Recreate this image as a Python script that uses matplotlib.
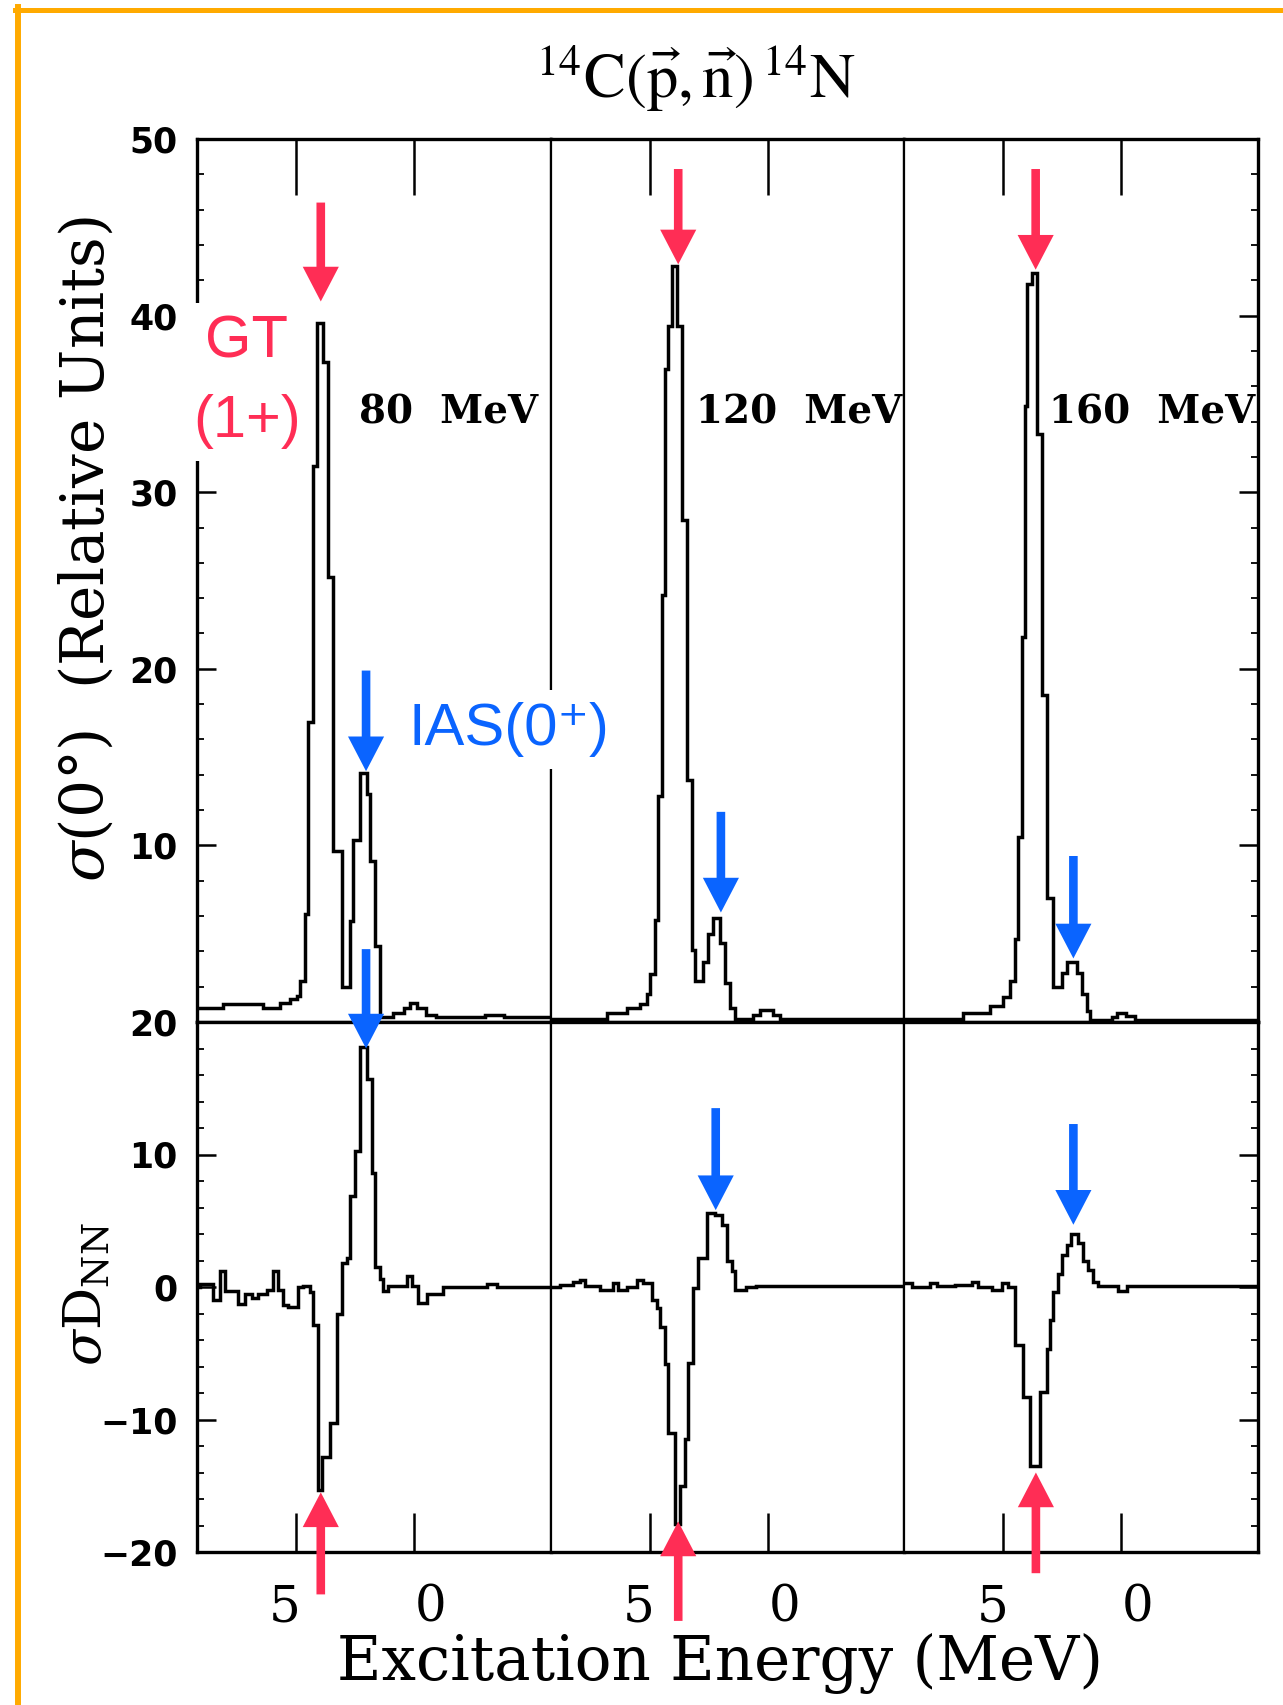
import numpy as np
import matplotlib
matplotlib.use("Agg")
import matplotlib.pyplot as plt
from matplotlib.lines import Line2D
from matplotlib.ticker import MultipleLocator
from matplotlib.transforms import ScaledTranslation

# 14C(p,n)14N spectra at 80 / 120 / 160 MeV: cross section (top) and sigma*D_NN (bottom)
# bin edges in MeV (read left to right, axis is reversed), values per bin

# --- sigma(0 deg), 80 MeV
cs80_e = [9.2, 8.1, 6.4, 5.68, 5.26, 4.97, 4.83, 4.62, 4.49, 4.28,
          4.11, 3.86, 3.64, 3.43, 3.05, 2.71, 2.58, 2.29, 1.99, 1.86,
          1.65, 1.44, 0.9, 0.4, 0.15, -0.15, -0.5, -0.95, -3.0, -3.8, -5.8]
cs80_y = [0.8, 1.0, 0.8, 1.1, 1.3, 1.5, 2.3, 6.1, 17.0, 31.5,
          39.6, 37.4, 25.2, 9.7, 2.0, 5.7, 10.3, 14.1, 12.9, 9.1,
          4.3, 0.3, 0.5, 0.8, 1.1, 0.8, 0.4, 0.3, 0.4, 0.3]

# --- sigma(0 deg), 120 MeV
cs120_e = [9.2, 6.83, 5.98, 5.41, 5.13, 4.99, 4.78, 4.64, 4.49, 4.35,
           4.21, 4.07, 3.86, 3.64, 3.43, 3.22, 3.08, 2.73, 2.52, 2.30,
           2.02, 1.81, 1.60, 1.38, 0.61, 0.33, -0.24, -0.52, -5.8]
cs120_y = [0.15, 0.5, 0.8, 1.0, 1.6, 2.7, 5.8, 12.8, 24.2, 37.0,
           39.4, 42.8, 39.4, 28.4, 13.7, 4.1, 2.3, 3.4, 5.0, 5.9,
           4.5, 2.2, 0.8, 0.15, 0.4, 0.7, 0.4, 0.15]

# --- sigma(0 deg), 160 MeV
cs160_e = [9.2, 6.70, 5.57, 5.00, 4.72, 4.51, 4.37, 4.22, 4.08, 4.01,
           3.80, 3.59, 3.37, 3.16, 2.88, 2.53, 2.31, 1.89, 1.68, 1.46,
           1.32, 0.40, 0.20, -0.20, -0.60, -5.8]
cs160_y = [0.15, 0.5, 0.9, 1.4, 2.3, 4.7, 10.5, 21.8, 34.9, 41.8,
           42.4, 33.3, 18.5, 7.0, 2.0, 2.8, 3.4, 2.8, 1.6, 0.6,
           0.1, 0.3, 0.5, 0.35, 0.1]

# --- sigma*D_NN, 80 MeV
dnn80_e = [9.2, 9.07, 8.51, 8.22, 8.01, 7.45, 7.16, 6.88, 6.60, 6.24,
           5.96, 5.75, 5.54, 5.33, 4.90, 4.69, 4.41, 4.27, 4.06, 3.91,
           3.56, 3.28, 3.06, 2.85, 2.71, 2.50, 2.29, 2.00, 1.79, 1.65,
           1.44, 1.30, 1.09, 0.31, 0.09, -0.18, -0.54, -1.25, -3.09, -3.51, -5.8]
dnn80_y = [0.0, 0.2, -1.0, 1.2, -0.3, -1.3, -0.5, -0.8, -0.5, -0.2,
           1.2, -0.2, -1.35, -1.5, 0.0, 0.1, -0.4, -2.9, -15.3, -12.8,
           -10.3, -2.0, 1.8, 2.2, 6.9, 10.3, 18.1, 15.7, 8.6, 1.5,
           0.6, -0.3, 0.1, 0.8, 0.1, -1.2, -0.5, 0.0, 0.2, 0.0]

# --- sigma*D_NN, 120 MeV
dnn120_e = [9.2, 8.81, 8.24, 7.96, 7.75, 7.11, 6.55, 6.33, 5.98, 5.55,
            5.27, 4.92, 4.70, 4.56, 4.35, 4.21, 3.93, 3.72, 3.50, 3.36,
            3.15, 2.94, 2.58, 2.23, 1.95, 1.74, 1.52, 1.38, 0.9, 0.5,
            -1.09, -5.8]
dnn120_y = [0.0, 0.15, 0.4, 0.5, 0.1, -0.2, 0.3, -0.2, 0.0, 0.5,
            0.3, -1.0, -1.6, -3.0, -5.8, -11.0, -17.9, -15.0, -11.5, -5.7,
            -0.1, 2.2, 5.55, 5.4, 4.7, 2.0, 1.2, -0.2, 0.0, 0.05, 0.1]

# --- sigma*D_NN, 160 MeV
dnn160_e = [9.2, 8.89, 8.11, 7.83, 7.05, 6.34, 6.06, 5.49, 5.07, 4.79,
            4.51, 4.15, 3.87, 3.45, 3.16, 3.02, 2.88, 2.69, 2.52, 2.31,
            2.14, 1.82, 1.61, 1.40, 1.18, 0.97, 0.12, -0.23, -0.72, -5.8]
dnn160_y = [0.3, 0.0, 0.3, 0.1, 0.15, 0.4, 0.0, -0.2, 0.3, 0.0,
            -4.4, -8.3, -13.5, -7.9, -4.7, -2.5, -0.35, 1.0, 2.4, 3.2,
            4.0, 3.3, 2.0, 1.3, 0.4, 0.1, -0.3, 0.05, 0.1]

energies = ["80  MeV", "120  MeV", "160  MeV"]
top_spectra = [(cs80_e, cs80_y), (cs120_e, cs120_y), (cs160_e, cs160_y)]
bot_spectra = [(dnn80_e, dnn80_y), (dnn120_e, dnn120_y), (dnn160_e, dnn160_y)]

# arrows: (energy, tail value, tip value)
gt_top = [(3.95, 46.4, 40.8), (3.79, 48.3, 42.9), (3.63, 48.3, 42.6)]
ias_top = [(2.03, 19.9, 14.2), (1.98, 11.9, 6.2), (2.03, 9.4, 3.6)]
ias_bot = [(2.03, 25.5, 18.0), (2.20, 13.5, 5.8), (2.03, 12.3, 4.7)]
gt_bot = [(3.95, -23.2, -15.5), (3.79, -25.2, -17.7), (3.62, -21.6, -14.0)]

W, H = 1283, 1705
DPI = 100
RED = "#FF2D55"
BLUE = "#0A64FF"
ORANGE = "#FFAA00"
XLIM = (9.2, -5.8)
ARROW = "simple,head_length=25,head_width=26,tail_width=6.2"

fig = plt.figure(figsize=(W / DPI, H / DPI), dpi=DPI)
gs = fig.add_gridspec(2, 3, left=197 / W, right=1258 / W, top=1 - 139 / H,
                      bottom=1 - 1552 / H, height_ratios=[883, 530],
                      wspace=0, hspace=0)
axes = [[fig.add_subplot(gs[r, c]) for c in range(3)] for r in range(2)]


def arrow(ax, x, y0, y1, color):
    ax.annotate("", xy=(x, y1), xytext=(x, y0),
                arrowprops=dict(arrowstyle=ARROW, mutation_scale=1, color=color,
                                lw=0, shrinkA=0, shrinkB=0),
                annotation_clip=False, zorder=10)


for r in range(2):
    for c in range(3):
        ax = axes[r][c]
        e, y = (top_spectra if r == 0 else bot_spectra)[c]
        ax.stairs(y, e, baseline=None, color="k", lw=2.5)
        ax.set_xlim(XLIM)
        if r == 0:
            ax.set_ylim(0, 50)
            ax.set_xticks([5, 0], ["", ""])
            ax.tick_params(axis="x", which="major", top=True, bottom=False,
                           direction="in", length=40, width=1.8)
            yt = [10, 20, 30, 40, 50]
            ytl = ["10", "20", "30", "40", "50"]
        else:
            ax.set_ylim(-20, 20)
            ax.set_xticks([5, 0], ["5", "0"], fontsize=36, fontfamily="DejaVu Serif")
            ax.tick_params(axis="x", which="major", top=False, bottom=True,
                           direction="in", length=28, width=1.8, pad=22)
            yt = [-20, -10, 0, 10, 20]
            ytl = ["\u221220", "\u221210", "0", "10", "20"]
        ax.yaxis.set_minor_locator(MultipleLocator(2))
        if c == 0:
            ax.set_yticks(yt, ytl, fontsize=25, fontweight="bold", fontfamily="DejaVu Sans")
            ax.tick_params(axis="y", which="both", left=True, right=False,
                           direction="in", pad=14)
        elif c == 2:
            ax.set_yticks(yt, [""] * len(yt))
            ax.tick_params(axis="y", which="both", left=False, right=True,
                           labelleft=False, direction="in")
        else:
            ax.set_yticks(yt, [""] * len(yt))
            ax.tick_params(axis="y", which="both", left=False, right=False,
                           labelleft=False)
        ax.tick_params(axis="y", which="major", length=14, width=1.8)
        ax.tick_params(axis="y", which="minor", length=5, width=1.3)
        ax.tick_params(axis="x", which="minor", bottom=False, top=False)
        for side, sp in ax.spines.items():
            sp.set_linewidth(2.4)
        if c > 0:
            ax.spines["left"].set_linewidth(1.6)
        if c < 2:
            ax.spines["right"].set_linewidth(1.6)

# the printed "5" and "0" sit a little outside their tick marks
for ax in axes[1]:
    labs = ax.get_xticklabels()
    for lab, dx in zip(labs, [-8, 12]):
        lab.set_transform(lab.get_transform() + ScaledTranslation(dx / 72, 0, fig.dpi_scale_trans))

# arrows
for c in range(3):
    arrow(axes[0][c], gt_top[c][0], gt_top[c][1], gt_top[c][2], RED)
    arrow(axes[0][c], ias_top[c][0], ias_top[c][1], ias_top[c][2], BLUE)
    arrow(axes[1][c], ias_bot[c][0], ias_bot[c][1], ias_bot[c][2], BLUE)
    arrow(axes[1][c], gt_bot[c][0], gt_bot[c][1], gt_bot[c][2], RED)

# beam energy labels
for c, x in enumerate([359, 696, 1049]):
    fig.text(x / W, 1 - 424 / H, energies[c], ha="left", va="baseline",
             fontsize=28, fontfamily="DejaVu Serif", fontweight="bold")

# state labels (white box hides the frame behind them, as in the original)
box = dict(boxstyle="square,pad=0.2", facecolor="white", edgecolor="none")
sans = ["Liberation Sans", "DejaVu Sans"]
fig.text(246.7 / W, 1 - 358 / H, "GT", color=RED, fontsize=43,
         fontfamily=sans, ha="center", va="baseline", bbox=box, zorder=5)
fig.text(246.7 / W, 1 - 436.7 / H, "(1+)", color=RED, fontsize=43,
         fontfamily=sans, ha="center", va="baseline", bbox=box, zorder=5)
fig.text(408 / W, 1 - 745 / H, "IAS(0\u207a)", color=BLUE, fontsize=43,
         fontfamily=sans, ha="left", va="baseline", bbox=box, zorder=5)

# title and axis labels
fig.text(696 / W, 1 - 98 / H,
         r"${}^{14}\mathrm{C}(\vec{\mathrm{p}},\vec{\mathrm{n}})\,{}^{14}\mathrm{N}$",
         ha="center", va="baseline", fontsize=45, math_fontfamily="stix")
fig.text(720 / W, 1 - 1680 / H, "Excitation Energy (MeV)", ha="center",
         va="baseline", fontsize=44, fontfamily="DejaVu Serif")
fig.text(86 / W, 1 - 549 / H, r"$\sigma$(0°)  (Relative Units)", rotation=90,
         ha="center", va="center", fontsize=43, fontfamily="DejaVu Serif",
         math_fontfamily="dejavuserif")
fig.text(86 / W, 1 - 1294 / H, r"$\sigma\mathrm{D}_{\mathrm{NN}}$", rotation=90,
         ha="center", va="center", fontsize=38, math_fontfamily="dejavuserif")

# orange frame (left and top edges only)
fig.add_artist(Line2D([18 / W, 18 / W], [0, 1 - 7 / H], color=ORANGE, lw=4.3,
                      transform=fig.transFigure))
fig.add_artist(Line2D([15 / W, 1], [1 - 9.5 / H, 1 - 9.5 / H], color=ORANGE, lw=3.6,
                      transform=fig.transFigure))

fig.savefig("out.png", dpi=DPI)
